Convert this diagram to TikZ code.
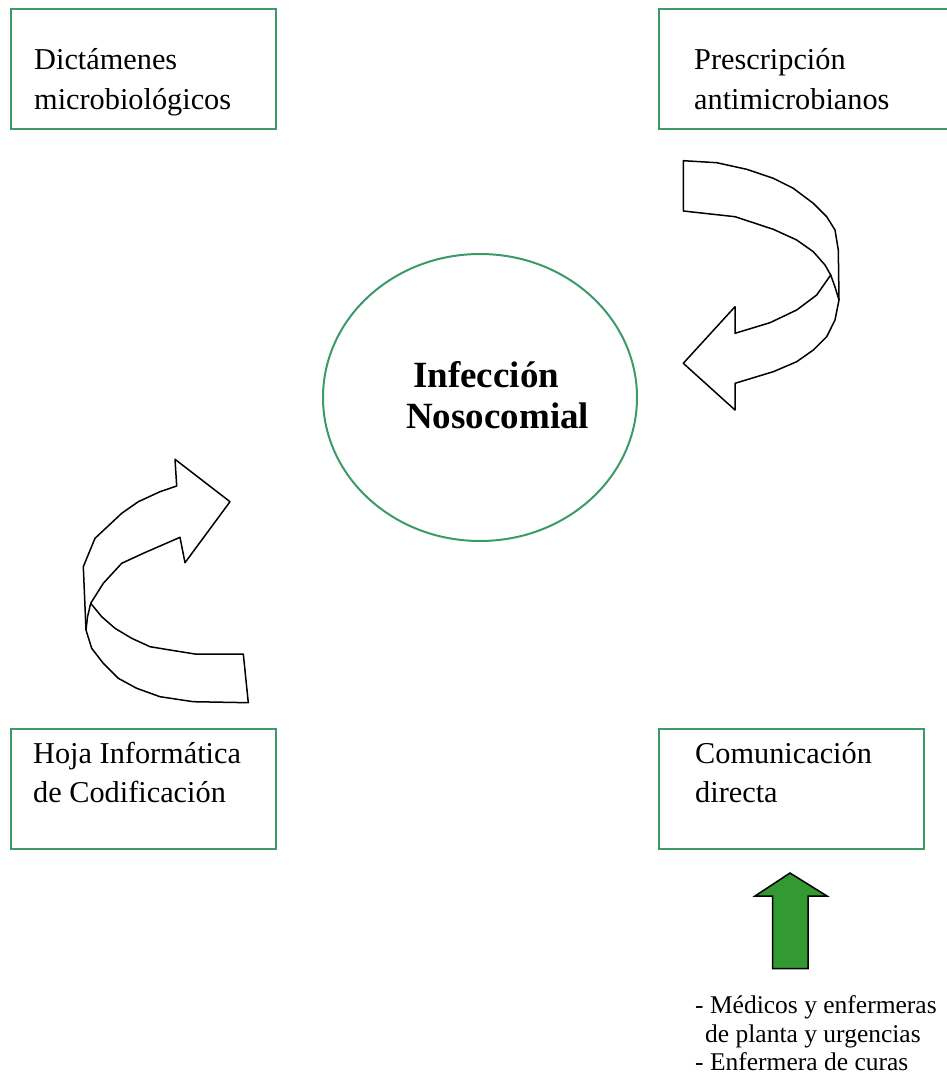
\documentclass[tikz,border=0pt]{standalone}
\usepackage{fontspec}
\setmainfont{Liberation Serif}
\usetikzlibrary{shapes.geometric}
\definecolor{boxgreen}{HTML}{3C9A68}
\definecolor{arrgreen}{HTML}{339933}
\begin{document}
\begin{tikzpicture}[x=1pt,y=-1pt,
  box/.style={draw=boxgreen, line width=2pt, rectangle, inner sep=0pt, minimum height=120pt},
  txt/.style={anchor=base west, inner sep=0pt, font=\fontsize{30.3}{40}\selectfont},
  btxt/.style={anchor=base west, inner sep=0pt, font=\fontsize{37}{41}\selectfont\bfseries},
  stxt/.style={anchor=base west, inner sep=0pt, font=\fontsize{25.5}{28.5}\selectfont},
  ribbon/.style={draw=black, line width=1.5pt, line join=round, fill=white}]
\useasboundingbox (0,0) rectangle (946,1086);
% boxes
\node[box, minimum width=265pt] (b1) at (143.5,69) {};
\node[box, minimum width=301pt] (b2) at (809.5,69) {};
\node[box, minimum width=265pt] (b3) at (143.5,789) {};
\node[box, minimum width=265pt] (b4) at (791.5,789) {};
\node[txt] (t1a) at (34,70) {Dictámenes};
\node[txt] (t1b) at (34,110) {microbiológicos};
\node[txt] (t2a) at (694,70) {Prescripción};
\node[txt] (t2b) at (694,110) {antimicrobianos};
\node[txt] (t3a) at (33,763) {Hoja Informática};
\node[txt] (t3b) at (33,802) {de Codificación};
\node[txt] (t4a) at (695,763) {Comunicación};
\node[txt] (t4b) at (695,802) {directa};
% circle
\node[draw=boxgreen, line width=2pt, ellipse, minimum width=314pt, minimum height=287pt, inner sep=0pt] (c) at (480,397.5) {};
\node[btxt] (c1) at (413,387) {Infección};
\node[btxt] (c2) at (406,428) {Nosocomial};
% right curved arrow
\draw[ribbon] (683.3,160.7) -- (716.7,162.7) -- (746.7,169.3) -- (773.3,178.3) -- (793.3,188.3) -- (813.3,203.3) -- (826.7,216.7) -- (835,230) -- (838.3,250) -- (839,300) -- (835,320) -- (826.7,336.7) -- (813.3,350) -- (796.7,361.7) -- (773.3,371.7) -- (735,383.3) -- (735,410) -- (683.3,363.3) -- (735,306.7) -- (735,333.3) -- (770,322.7) -- (796.7,310) -- (816.7,295) -- (830.7,275) -- (825,265) -- (813.3,251.7) -- (796.7,240) -- (773.3,229.3) -- (735,216.7) -- (683.3,211) -- cycle;
\draw[line width=1.5pt] (830.7,275) -- (835,287) -- (839,300);
% left curved arrow
\draw[ribbon] (175,459.3) -- (176.7,486) -- (160,491.7) -- (138.3,501.7) -- (121.7,513.3) -- (95,538.3) -- (83.3,566.7) -- (86,630) -- (91.7,648.3) -- (103.3,663.3) -- (118.3,678.3) -- (136.7,688.3) -- (160,696.7) -- (193.3,701.7) -- (248.3,702.7) -- (243.3,654) -- (195,654) -- (170,650) -- (150,646.7) -- (131.7,638.3) -- (115,628.3) -- (101.7,616.7) -- (90.7,603.3) -- (103.3,583.3) -- (121.7,563.3) -- (143.3,553.3) -- (180,537.3) -- (185,562.7) -- (230,501.7) -- cycle;
\draw[line width=1.5pt] (90.7,603.3) -- (87.5,617) -- (86,630);
% green arrow
\draw[fill=arrgreen, draw=black, line width=1.5pt, line join=miter] (790,873) -- (827,896) -- (808,896) -- (808,968.5) -- (772.5,968.5) -- (772.5,896) -- (755,896) -- cycle;
\node[stxt] (l1) at (695,1013) {- Médicos y enfermeras};
\node[stxt] (l2) at (705,1042) {de planta y urgencias};
\node[stxt] (l3) at (695,1070) {- Enfermera de curas};
\end{tikzpicture}
\end{document}
